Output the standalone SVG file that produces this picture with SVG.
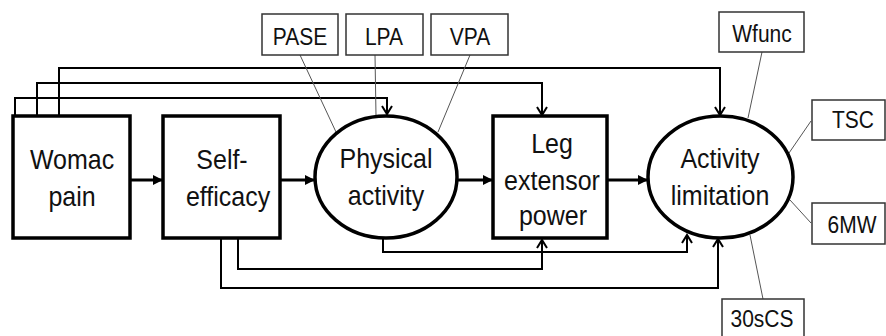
<svg xmlns="http://www.w3.org/2000/svg" width="886" height="336" viewBox="0 0 886 336">
<style>
.main{fill:#fff;stroke:#000;stroke-width:3.5}
.small{fill:#fff;stroke:#333;stroke-width:1.5}
.big{font-family:"Liberation Sans",Arial,sans-serif;font-size:25px;text-anchor:middle;fill:#111}
.lbl{font-family:"Liberation Sans",Arial,sans-serif;font-size:21px;text-anchor:middle;fill:#111}
.conn{fill:none;stroke:#000;stroke-width:2}
.thick{fill:none;stroke:#000;stroke-width:3}
.thin{fill:none;stroke:#555;stroke-width:1}
</style>
<defs>
<marker id="solid" markerUnits="userSpaceOnUse" markerWidth="10" markerHeight="10" viewBox="0 0 10 10" refX="10" refY="5" orient="auto">
<path d="M0,0 L10,5 L0,10 z" fill="#000"/>
</marker>
<marker id="open" markerUnits="userSpaceOnUse" markerWidth="12" markerHeight="12" viewBox="0 0 12 12" refX="10" refY="6" orient="auto">
<path d="M2,1 L10,6 L2,11" fill="none" stroke="#000" stroke-width="2"/>
</marker>
</defs>

<g id="connectors">
<path class="conn" d="M59,116 V68 H720 V115" marker-end="url(#open)"/>
<path class="conn" d="M37,116 V83 H542 V115" marker-end="url(#open)"/>
<path class="conn" d="M15,116 V98 H387 V114" marker-end="url(#open)"/>
<path class="conn" d="M383,238 V252 H687 V235" marker-end="url(#open)"/>
<path class="conn" d="M238,238 V269 H542 V240" marker-end="url(#open)"/>
<path class="conn" d="M221,238 V288 H718 V239" marker-end="url(#open)"/>
<path class="thick" d="M130,180 H163" marker-end="url(#solid)"/>
<path class="thick" d="M280,180 H315" marker-end="url(#solid)"/>
<path class="thick" d="M458,180 H493" marker-end="url(#solid)"/>
<path class="thick" d="M607,180 H648" marker-end="url(#solid)"/>
<line class="thin" x1="300" y1="55" x2="336" y2="132"/>
<line class="thin" x1="375" y1="55" x2="376" y2="116"/>
<line class="thin" x1="470" y1="55" x2="438" y2="132"/>
<line class="thin" x1="762" y1="52" x2="748" y2="118"/>
<line class="thin" x1="811" y1="121" x2="789" y2="153"/>
<line class="thin" x1="790" y1="200" x2="811" y2="223"/>
<line class="thin" x1="750" y1="235" x2="763" y2="299"/>
</g>

<g id="womac">
<rect class="main" x="13" y="116" width="117" height="122"/>
<text class="big" transform="translate(72,169) scale(1,1.1)">Womac</text>
<text class="big" transform="translate(72,206) scale(1,1.1)">pain</text>
</g>
<g id="self-efficacy">
<rect class="main" x="163" y="116" width="117" height="122"/>
<text class="big" transform="translate(222,169) scale(1,1.1)">Self-</text>
<text class="big" transform="translate(228,206) scale(1,1.1)">efficacy</text>
</g>
<g id="physical-activity">
<ellipse class="main" cx="386" cy="177" rx="71" ry="61"/>
<text class="big" transform="translate(386,168) scale(1,1.1)">Physical</text>
<text class="big" transform="translate(386,205) scale(1,1.1)">activity</text>
</g>
<g id="leg-extensor-power">
<rect class="main" x="493" y="116" width="114" height="122"/>
<text class="big" transform="translate(552,153) scale(1,1.1)">Leg</text>
<text class="big" transform="translate(552,190) scale(1,1.1)">extensor</text>
<text class="big" transform="translate(553,225) scale(1,1.1)">power</text>
</g>
<g id="activity-limitation">
<ellipse class="main" cx="720.5" cy="177" rx="72.5" ry="61"/>
<text class="big" transform="translate(720,168) scale(1,1.1)">Activity</text>
<text class="big" transform="translate(720,205) scale(1,1.1)">limitation</text>
</g>
<g id="pase">
<rect class="small" x="262" y="14" width="76" height="41"/>
<text class="lbl" transform="translate(300,45) scale(1,1.15)">PASE</text>
</g>
<g id="lpa">
<rect class="small" x="346" y="14" width="77" height="41"/>
<text class="lbl" transform="translate(384,45) scale(1,1.15)">LPA</text>
</g>
<g id="vpa">
<rect class="small" x="431" y="14" width="77" height="41"/>
<text class="lbl" transform="translate(470,45) scale(1,1.15)">VPA</text>
</g>
<g id="wfunc">
<rect class="small" x="719" y="12" width="85" height="40"/>
<text class="lbl" transform="translate(762,42) scale(1,1.15)">Wfunc</text>
</g>
<g id="tsc">
<rect class="small" x="812" y="100" width="73" height="40"/>
<text class="lbl" transform="translate(853,128) scale(1,1.15)">TSC</text>
</g>
<g id="6mw">
<rect class="small" x="812" y="203" width="73" height="41"/>
<text class="lbl" transform="translate(852,233) scale(1,1.15)">6MW</text>
</g>
<g id="30scs">
<rect class="small" x="722" y="299" width="82" height="40"/>
<text class="lbl" transform="translate(762,327) scale(1,1.15)">30sCS</text>
</g>
</svg>
